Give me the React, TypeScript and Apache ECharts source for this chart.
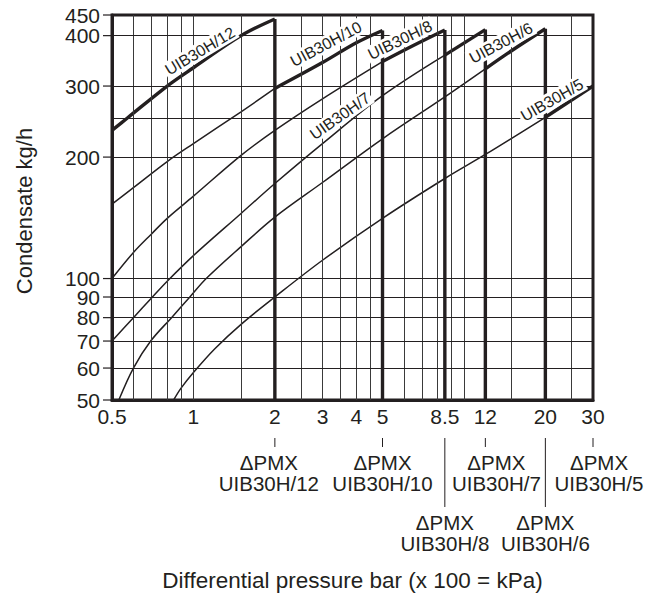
import React, { useEffect, useRef } from "react";
import * as echarts from "echarts";

// ---- axis values ----
const xTickValues = [0.5, 1, 2, 3, 4, 5, 8.5, 12, 20, 30];
const yTickValues = [50, 60, 70, 80, 90, 100, 200, 300, 400, 450];
const xGridValues = [0.6, 0.7, 0.8, 0.9, 1, 1.5, 2.5, 3, 3.5, 4, 4.5, 6, 7, 8, 9, 10, 15, 25];
const yGridValues = [60, 70, 80, 90, 100, 200, 250, 300, 400];

// ---- models ----
const models = ["UIB30H/12", "UIB30H/10", "UIB30H/8", "UIB30H/7", "UIB30H/6", "UIB30H/5"];

// thin part of each capacity curve [bar, kg/h]
const thin12: number[][] = [];
const thin10 = [[0.5, 153], [0.6, 168], [0.8, 195], [1, 216], [1.5, 259], [2, 296]];
const thin8 = [[0.5, 100], [0.6, 116], [0.7, 129], [0.8, 141], [1, 160], [1.5, 202], [2, 233], [3, 279], [5, 345]];
const thin7 = [[0.5, 70], [0.6, 80], [0.7, 89.5], [0.8, 98.5], [1, 114], [1.5, 145], [2, 172], [3, 216], [5, 284], [8.5, 358]];
const thin6 = [[0.53, 50], [0.6, 60], [0.695, 70], [0.83, 80], [0.97, 90], [1.115, 100], [1.5, 120], [2, 142], [3, 173], [5, 222], [8.5, 282], [12, 331]];
const thin5 = [[0.845, 50], [0.9, 53.5], [1, 58.5], [1.2, 67], [1.5, 77], [2, 90], [3, 111], [5, 141], [8.5, 177], [12, 203], [20, 251]];

// thick (working range) part of each curve
const thick12 = [[0.5, 233], [0.57, 250], [0.8, 300], [1, 333], [1.5, 400], [2, 440]];
const thick10 = [[2, 296], [3, 343], [4, 384], [5, 412]];
const thick8 = [[5, 345], [6.5, 378], [8.5, 413]];
const thick7 = [[8.5, 358], [12, 414]];
const thick6 = [[12, 331], [15, 367], [20, 416]];
const thick5 = [[20, 251], [30, 300]];

// maximum differential pressure of each model and the curve height there
const pmxLimits = [2, 5, 8.5, 12, 20, 30];
const pmxTops = [440, 412, 413, 414, 416, 300];

const thinCurves = [thin12, thin10, thin8, thin7, thin6, thin5];
const thickCurves = [thick12, thick10, thick8, thick7, thick6, thick5];

export default function App() {
  const ref = useRef<HTMLDivElement>(null);

  useEffect(() => {
    const el = ref.current;
    if (!el) return;
    const chart = echarts.init(el, null, { renderer: "svg" });
    const ink = "#231f20";
    const font = '"Liberation Sans", Arial, Helvetica, sans-serif';

    const series: any[] = [];
    series.push({
      type: "line",
      data: [[1, 100]],
      symbol: "none",
      lineStyle: { opacity: 0 },
      silent: true,
      z: 1,
      markLine: {
        silent: true,
        symbol: ["none", "none"],
        label: { show: false },
        emphasis: { disabled: true },
        lineStyle: { color: ink, width: 1, type: "solid" },
        data: [
          ...xGridValues.map((v) => ({ xAxis: v, lineStyle: { color: "#3a3a3a", width: 1, type: "solid" } })),
          ...yGridValues.map((v) => ({ yAxis: v, lineStyle: { color: ink, width: 1.1, type: "solid" } })),
        ],
      },
    });

    models.forEach((m, i) => {
      if (thinCurves[i].length) {
        series.push({
          type: "line",
          name: m + " range",
          data: thinCurves[i],
          smooth: 0.35,
          symbol: "none",
          silent: true,
          lineStyle: { color: ink, width: 1.5 },
          z: 3,
        });
      }
      series.push({
        type: "line",
        name: m,
        data: thickCurves[i],
        smooth: 0.35,
        symbol: "none",
        silent: true,
        lineStyle: { color: ink, width: 3.4 },
        z: 4,
      });
      if (i < models.length - 1) {
        series.push({
          type: "line",
          name: m + " max",
          data: [
            [pmxLimits[i], 50],
            [pmxLimits[i], pmxTops[i]],
          ],
          symbol: "none",
          silent: true,
          lineStyle: { color: ink, width: 3.4 },
          z: 4,
        });
      }
    });

    const fmt = (v: number) => String(Math.round(v * 10) / 10);

    chart.setOption({
      animation: false,
      backgroundColor: "#ffffff",
      grid: {
        left: 112,
        right: 65,
        top: 15,
        bottom: 197,
        show: true,
        borderColor: ink,
        borderWidth: 3,
        backgroundColor: "transparent",
      },
      xAxis: {
        type: "log",
        logBase: 10,
        min: 0.5,
        max: 30,
        axisLine: { show: true, onZero: false, lineStyle: { color: ink, width: 3 } },
        axisTick: { show: false },
        minorTick: { show: false },
        splitLine: { show: false },
        axisLabel: {
          customValues: xTickValues,
          formatter: fmt,
          showMinLabel: true,
          showMaxLabel: true,
          color: ink,
          fontSize: 21,
          fontFamily: font,
          margin: 6,
        },
      },
      yAxis: {
        type: "log",
        logBase: 10,
        min: 50,
        max: 450,
        axisLine: { show: true, onZero: false, lineStyle: { color: ink, width: 3 } },
        axisTick: { show: false },
        minorTick: { show: false },
        splitLine: { show: false },
        axisLabel: { show: false },
      },
      series,
    });

    // annotations placed through the axis scale
    const px = (v: number) => chart.convertToPixel({ xAxisIndex: 0 }, v) as number;
    const py = (v: number) => chart.convertToPixel({ yAxisIndex: 0 }, v) as number;
    const bottom = py(50);
    const left = px(0.5);

    const textStyle = (text: string, size: number, extra: any = {}) => ({
      text,
      fill: ink,
      fontSize: size,
      fontFamily: font,
      align: "center",
      verticalAlign: "middle",
      textAlign: "center",
      textVerticalAlign: "middle",
      ...extra,
    });

    const graphic: any[] = [];

    // y-axis ticks and labels
    yTickValues.forEach((v) => {
      const y = py(v);
      graphic.push({
        type: "line",
        shape: { x1: left - 9, y1: y, x2: left, y2: y },
        style: { stroke: ink, lineWidth: 1.2 },
        silent: true,
      });
      graphic.push({
        type: "text",
        x: left - 12,
        y,
        silent: true,
        style: textStyle(fmt(v), 21, { align: "right", textAlign: "right" }),
      });
    });

    const pmxLayout = [
      { shift: -6, row: 0 },
      { shift: 0, row: 0 },
      { shift: 0, row: 1 },
      { shift: 11, row: 0 },
      { shift: 0, row: 1 },
      { shift: 6, row: 0 },
    ];
    const curveLabels = [
      { x: 200, y: 51, rot: 31 },
      { x: 326, y: 44, rot: 28 },
      { x: 400, y: 40, rot: 26 },
      { x: 340, y: 116, rot: 35 },
      { x: 501, y: 43, rot: 28 },
      { x: 552, y: 100, rot: 30 },
    ];

    models.forEach((m, i) => {
      const xp = px(pmxLimits[i]);
      const lay = pmxLayout[i];
      const long = lay.row === 1;
      graphic.push({
        type: "line",
        shape: { x1: xp, y1: bottom + 38, x2: xp, y2: bottom + (long ? 107 : 47) },
        style: { stroke: ink, lineWidth: 1 },
        silent: true,
      });
      const cx = xp + lay.shift;
      const midY = bottom + (long ? 133 : 73);
      graphic.push({
        type: "text",
        x: cx,
        y: midY,
        silent: true,
        style: textStyle("ΔPMX\n" + m, 20.5, { lineHeight: 21 }),
      });

      const cl = curveLabels[i];
      graphic.push({
        type: "text",
        x: cl.x,
        y: cl.y,
        rotation: (cl.rot * Math.PI) / 180,
        z: 100,
        silent: true,
        style: textStyle(m, 16, { backgroundColor: "#ffffff", padding: [1, 2, 0, 2] }),
      });
    });

    graphic.push({
      type: "text",
      x: 24,
      y: 211,
      rotation: Math.PI / 2,
      silent: true,
      style: textStyle("Condensate kg/h", 22),
    });
    graphic.push({
      type: "text",
      x: (px(0.5) + px(30)) / 2,
      y: 580,
      silent: true,
      style: textStyle("Differential pressure bar (x 100 = kPa)", 22.5),
    });

    chart.setOption({ graphic });

    return () => {
      chart.dispose();
    };
  }, []);

  return (
    <div
      ref={ref}
      style={{ position: "fixed", left: 0, top: 0, width: 658, height: 597, background: "#ffffff" }}
    />
  );
}
